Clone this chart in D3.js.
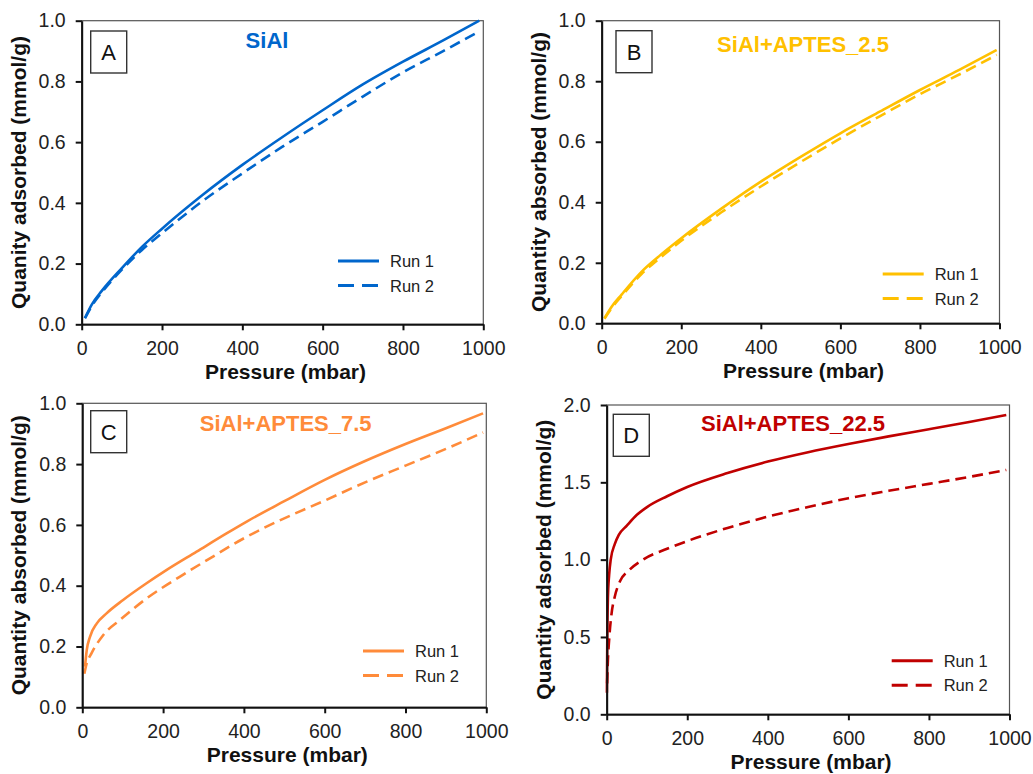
<!DOCTYPE html>
<html>
<head>
<meta charset="utf-8">
<script src="https://cdn.jsdelivr.net/npm/d3@7"></script>
<style>
  body { margin: 0; background: #fff; }
  svg { font-family: "Liberation Sans", Arial, sans-serif; }
</style>
</head>
<body>
<svg id="chart" width="1033" height="774"></svg>
<script>
// values: [pressure (mbar), quantity (mmol/g)]
const sialRun1 = [[8,0.02],[25,0.065],[50,0.11],[100,0.185],[150,0.255],[200,0.315],[300,0.425],[400,0.525],[500,0.617],[600,0.705],[700,0.79],[800,0.865],[900,0.935],[990,1.0]];
const sialRun2 = [[8,0.02],[25,0.06],[50,0.105],[100,0.18],[150,0.245],[200,0.30],[300,0.405],[400,0.497],[500,0.585],[600,0.667],[700,0.75],[800,0.83],[900,0.90],[990,0.965]];

const aptes25Run1 = [[7,0.017],[25,0.055],[50,0.095],[100,0.17],[150,0.228],[200,0.281],[300,0.378],[400,0.468],[500,0.55],[600,0.628],[700,0.70],[800,0.771],[900,0.838],[993,0.903]];
const aptes25Run2 = [[7,0.015],[25,0.05],[50,0.09],[100,0.163],[150,0.22],[200,0.273],[300,0.366],[400,0.452],[500,0.533],[600,0.611],[700,0.685],[800,0.757],[900,0.823],[993,0.887]];

const aptes75Run1 = [[6.7,0.134],[11,0.188],[19,0.232],[36,0.276],[60,0.309],[101,0.353],[159,0.408],[209,0.452],[283,0.512],[357,0.572],[407,0.611],[500,0.678],[600,0.748],[700,0.81],[800,0.866],[900,0.918],[992,0.967]];
const aptes75Run2 = [[5,0.11],[10,0.14],[23,0.178],[52,0.238],[93,0.287],[159,0.358],[242,0.43],[316,0.49],[407,0.561],[465,0.60],[600,0.68],[700,0.74],[800,0.795],[900,0.85],[992,0.904]];

const aptes225Run1 = [[0.5,0.14],[1.5,0.5],[3,0.75],[6,0.9],[10,1.0],[20,1.1],[30,1.16],[50,1.22],[75,1.29],[100,1.34],[150,1.41],[200,1.47],[300,1.56],[400,1.634],[500,1.695],[600,1.748],[700,1.797],[800,1.843],[900,1.89],[992,1.935]];
const aptes225Run2 = [[1,0.2],[3,0.35],[6,0.48],[12,0.65],[20,0.76],[33,0.86],[55,0.93],[90,1.0],[150,1.07],[200,1.12],[300,1.205],[400,1.278],[500,1.34],[600,1.397],[700,1.445],[800,1.49],[900,1.535],[992,1.58]];

const xTicks = [0, 200, 400, 600, 800, 1000];
const yTicksSmall = [0, 0.2, 0.4, 0.6, 0.8, 1.0];
const yTicksLarge = [0, 0.5, 1.0, 1.5, 2.0];
const legendLabels = ["Run 1", "Run 2"];

const FONT = "Liberation Sans, Arial, sans-serif";
const svg = d3.select("#chart");

const panels = [
  { letter: "A", title: "SiAl", color: "#0066cc", run1: sialRun1, run2: sialRun2,
    yMax: 1.0, yTicks: yTicksSmall, yTitle: "Quanity adsorbed (mmol/g)",
    left: 81.7, right: 483.3, top: 20.7, bottom: 324.3,
    titleX: 267, titleY: 48, box: [90.7, 31], legend: [338, 261] },
  { letter: "B", title: "SiAl+APTES_2.5", color: "#ffc000", run1: aptes25Run1, run2: aptes25Run2,
    yMax: 1.0, yTicks: yTicksSmall, yTitle: "Quantity absorbed (mmol/g)",
    left: 601.7, right: 999.5, top: 20.7, bottom: 323.3,
    titleX: 803, titleY: 52, box: [616, 30.7], legend: [882.7, 274] },
  { letter: "C", title: "SiAl+APTES_7.5", color: "#ff8b3a", run1: aptes75Run1, run2: aptes75Run2,
    yMax: 1.0, yTicks: yTicksSmall, yTitle: "Quantity absorbed (mmol/g)",
    left: 82.3, right: 486.3, top: 403.3, bottom: 707.3,
    titleX: 285.7, titleY: 431, box: [90.7, 410.7], legend: [363, 651] },
  { letter: "D", title: "SiAl+APTES_22.5", color: "#c00000", run1: aptes225Run1, run2: aptes225Run2,
    yMax: 2.0, yTicks: yTicksLarge, yTitle: "Quantity adsorbed (mmol/g)",
    left: 606.7, right: 1009.5, top: 405, bottom: 714.3,
    titleX: 793, titleY: 431, box: [613.3, 414.3], legend: [891.7, 660.7] }
];

panels.forEach(p => {
  const x = d3.scaleLinear().domain([0, 1000]).range([p.left, p.right]);
  const y = d3.scaleLinear().domain([0, p.yMax]).range([p.bottom, p.top]);
  const g = svg.append("g");

  // thin frame (top and right edges)
  g.append("rect")
    .attr("x", p.left).attr("y", p.top)
    .attr("width", p.right - p.left).attr("height", p.bottom - p.top)
    .attr("fill", "none").attr("stroke", "#555").attr("stroke-width", 1.2);

  const line = d3.line()
    .x(d => x(d[0]))
    .y(d => y(d[1]))
    .curve(d3.curveMonotoneX);

  g.append("path").datum(p.run1)
    .attr("d", line).attr("fill", "none")
    .attr("stroke", p.color).attr("stroke-width", 2.6);
  g.append("path").datum(p.run2)
    .attr("d", line).attr("fill", "none")
    .attr("stroke", p.color).attr("stroke-width", 2.6)
    .attr("stroke-dasharray", "11,6");

  const xAxis = g.append("g")
    .attr("transform", "translate(0," + p.bottom + ")")
    .call(d3.axisBottom(x).tickValues(xTicks).tickFormat(d3.format("d")).tickSize(6).tickPadding(11).tickSizeOuter(0));
  const yAxis = g.append("g")
    .attr("transform", "translate(" + p.left + ",0)")
    .call(d3.axisLeft(y).tickValues(p.yTicks).tickFormat(d3.format(".1f")).tickSize(6).tickPadding(10).tickSizeOuter(0));

  [xAxis, yAxis].forEach(a => {
    a.attr("font-family", FONT).attr("font-size", 19.5);
    a.select(".domain").attr("stroke", "#111").attr("stroke-width", 2);
    a.selectAll(".tick line").attr("stroke", "#111").attr("stroke-width", 2);
    a.selectAll(".tick text").attr("fill", "#222");
  });

  // axis titles
  g.append("text")
    .attr("x", (p.left + p.right) / 2 + 3).attr("y", p.bottom + 54.4)
    .attr("text-anchor", "middle")
    .attr("font-family", FONT).attr("font-size", 21).attr("font-weight", "bold").attr("fill", "#111")
    .text("Pressure (mbar)");
  g.append("text")
    .attr("transform", "translate(" + (p.left - 56) + "," + ((p.top + p.bottom) / 2) + ") rotate(-90)")
    .attr("text-anchor", "middle")
    .attr("font-family", FONT).attr("font-size", 21).attr("font-weight", "bold").attr("fill", "#111")
    .text(p.yTitle);

  // panel letter box
  g.append("rect")
    .attr("x", p.box[0]).attr("y", p.box[1]).attr("width", 36).attr("height", 42)
    .attr("fill", "#fff").attr("stroke", "#333").attr("stroke-width", 1.4);
  g.append("text")
    .attr("x", p.box[0] + 18).attr("y", p.box[1] + 29)
    .attr("text-anchor", "middle")
    .attr("font-family", FONT).attr("font-size", 22).attr("fill", "#111")
    .text(p.letter);

  // sample title
  g.append("text")
    .attr("x", p.titleX).attr("y", p.titleY)
    .attr("text-anchor", "middle")
    .attr("font-family", FONT).attr("font-size", 22).attr("font-weight", "bold").attr("fill", p.color)
    .text(p.title);

  // legend
  legendLabels.forEach((lab, i) => {
    const ly = p.legend[1] + i * 24.5;
    g.append("line")
      .attr("x1", p.legend[0]).attr("x2", p.legend[0] + 41)
      .attr("y1", ly).attr("y2", ly)
      .attr("stroke", p.color).attr("stroke-width", 3)
      .attr("stroke-dasharray", i === 1 ? "16,8" : null);
    g.append("text")
      .attr("x", p.legend[0] + 52).attr("y", ly + 6)
      .attr("font-family", FONT).attr("font-size", 16.5).attr("fill", "#222")
      .text(lab);
  });
});
</script>
</body>
</html>
